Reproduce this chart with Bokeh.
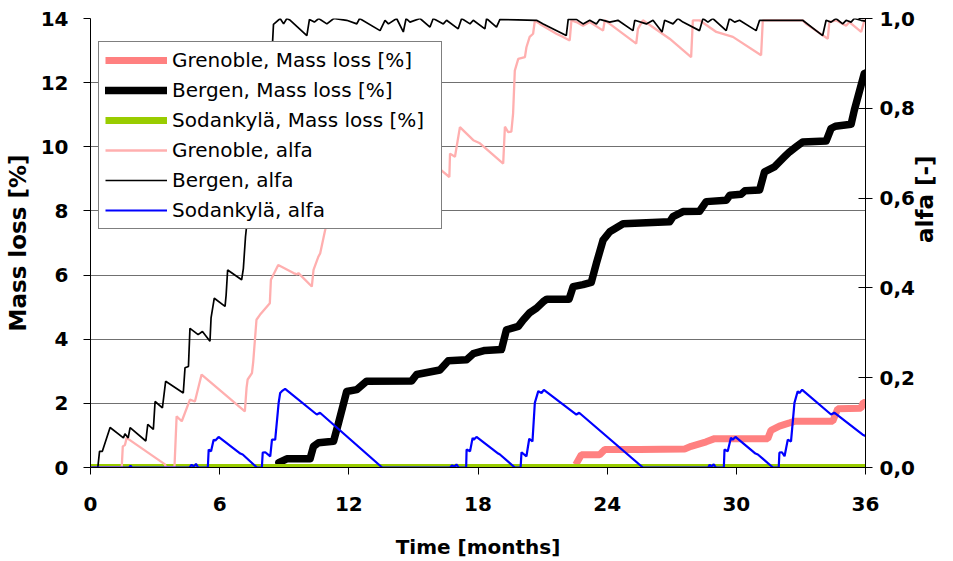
from math import pi
from bokeh.plotting import figure
from bokeh.models import (Range1d, LinearAxis, FixedTicker, CustomJSTickFormatter,
                          Legend, LegendItem)
from bokeh.embed import file_html
from bokeh.resources import INLINE

# ---------------- data (time in months, mass loss in %, alfa in -) ----------------
x_ticks = [0, 6, 12, 18, 24, 30, 36]
mass_ticks = [0, 2, 4, 6, 8, 10, 12, 14]
alfa_ticks = [0.0, 0.2, 0.4, 0.6, 0.8, 1.0]

grenoble_mass = [(22.54, 0.09), (22.8, 0.4), (23.65, 0.4), (23.89, 0.56), (25.5, 0.56),
                 (27.6, 0.58), (27.9, 0.66), (28.6, 0.8), (28.99, 0.9), (31.46, 0.9),
                 (31.61, 1.16), (32.0, 1.29), (32.47, 1.39), (32.7, 1.44), (34.48, 1.44),
                 (34.71, 1.83), (35.79, 1.85), (35.9, 2.03), (36.0, 2.03)]

bergen_mass = [(8.75, 0.15), (9.12, 0.27), (10.2, 0.27), (10.36, 0.66), (10.59, 0.77),
               (11.29, 0.82), (11.52, 1.39), (11.9, 2.37), (12.37, 2.43), (12.83, 2.69),
               (14.92, 2.70), (15.15, 2.9), (16.23, 3.04), (16.62, 3.33), (17.47, 3.36),
               (17.78, 3.55), (18.32, 3.65), (19.09, 3.68), (19.32, 4.29), (19.87, 4.4),
               (20.1, 4.6), (20.41, 4.83), (20.72, 4.97), (21.03, 5.17), (21.2, 5.25),
               (22.23, 5.25), (22.42, 5.64), (22.88, 5.7), (23.26, 5.77), (23.5, 6.37),
               (23.81, 7.09), (24.12, 7.35), (24.74, 7.6), (26.9, 7.66), (27.06, 7.82),
               (27.52, 7.98), (28.29, 7.99), (28.6, 8.29), (29.53, 8.33), (29.7, 8.49),
               (30.22, 8.52), (30.4, 8.63), (31.08, 8.65), (31.31, 9.22), (31.77, 9.37),
               (32.24, 9.69), (32.47, 9.84), (32.78, 10.0), (33.08, 10.15), (34.17, 10.18),
               (34.4, 10.57), (34.6, 10.64), (35.33, 10.7), (35.48, 11.14), (35.94, 12.28),
               (36.0, 12.3)]

sodankyla_mass = [(0, 0), (6, 0), (12, 0), (18, 0), (24, 0), (30, 0), (36, 0)]

grenoble_alfa = [(0, 0), (1.45, 0), (1.5, 0.047), (1.6, 0.05), (1.68, 0.066), (3.46, 0.007),
                 (3.5, 0), (3.9, 0), (4.0, 0.114), (4.24, 0.103), (4.62, 0.151), (4.85, 0.147),
                 (5.16, 0.207), (7.17, 0.125), (7.25, 0.178), (7.3, 0.196), (7.5, 0.21),
                 (7.56, 0.236), (7.71, 0.329), (7.87, 0.34), (8.33, 0.366), (8.38, 0.418),
                 (8.72, 0.451), (9.43, 0.433), (9.59, 0.43), (9.66, 0.433), (10.28, 0.403),
                 (10.36, 0.44), (10.59, 0.47), (10.67, 0.477), (10.9, 0.529), (11.1, 0.58),
                 (11.5, 0.6), (12.8, 0.55), (12.9, 0.62), (13.2, 0.64), (14.8, 0.58),
                 (14.9, 0.66), (15.3, 0.70), (16.3, 0.662), (16.67, 0.647), (16.7, 0.699),
                 (16.93, 0.692), (17.16, 0.758), (17.78, 0.729), (18.09, 0.722),
                 (19.17, 0.677), (19.25, 0.759), (19.4, 0.747), (19.55, 0.748),
                 (19.63, 0.788), (19.71, 0.884), (19.87, 0.91), (20.18, 0.914),
                 (20.25, 0.936), (20.4, 0.959), (20.56, 0.966), (20.64, 0.995),
                 (20.87, 0.988), (21.64, 0.966), (21.95, 0.959), (22.26, 0.951),
                 (22.34, 0.996), (22.57, 0.992), (22.88, 0.984), (23.19, 0.992),
                 (23.81, 0.973), (23.89, 0.996), (24.12, 0.988), (25.35, 0.944),
                 (25.43, 0.977), (25.66, 0.996), (26.9, 0.955), (27.9, 0.914),
                 (27.98, 0.996), (28.29, 0.996), (29.07, 0.970), (29.84, 0.959),
                 (31.15, 0.918), (31.23, 0.996), (33.08, 0.996), (33.24, 0.988),
                 (34.25, 0.955), (34.32, 0.992), (34.63, 0.996), (35.1, 0.984),
                 (35.25, 0.992), (35.8, 0.970), (35.95, 0.996), (36.0, 0.996)]

bergen_alfa = [(0, 0), (0.34, 0), (0.42, 0.036), (0.55, 0.036), (0.91, 0.089), (1.53, 0.066),
               (1.6, 0.075), (1.75, 0.066), (1.84, 0.089), (2.57, 0.059), (2.66, 0.096),
               (2.92, 0.085), (3.0, 0.147), (3.34, 0.133), (3.49, 0.192), (4.31, 0.166),
               (4.39, 0.222), (4.55, 0.225), (4.62, 0.310), (5.0, 0.296), (5.2, 0.303),
               (5.55, 0.281), (5.6, 0.333), (5.75, 0.377), (6.25, 0.359), (6.3, 0.384),
               (6.37, 0.440), (7.02, 0.418), (7.1, 0.443), (7.2, 0.514), (7.3, 0.56),
               (7.6, 0.68), (7.9, 0.78), (8.2, 0.86), (8.46, 0.95), (8.5, 0.987),
               (8.81, 1.0), (8.97, 0.988), (9.12, 1.0), (9.28, 0.996), (10.05, 0.962),
               (10.17, 0.998), (10.4, 0.992), (10.6, 1.0), (10.98, 0.988), (11.3, 1.0),
               (11.9, 0.996), (12.37, 0.988), (12.5, 1.0), (13.45, 0.973), (13.68, 0.996),
               (13.84, 0.988), (14.22, 1.0), (14.53, 0.970), (14.66, 1.0), (14.84, 0.992),
               (15.31, 1.0), (15.77, 0.981), (15.92, 1.0), (16.39, 0.988), (16.54, 0.996),
               (17.08, 0.977), (17.24, 1.0), (17.63, 0.988), (17.78, 0.996), (18.32, 0.977),
               (18.4, 1.0), (18.86, 0.981), (19.02, 0.998), (20.72, 0.996), (21.03, 0.988),
               (22.1, 0.962), (22.19, 0.998), (22.57, 0.998), (22.88, 0.988), (23.19, 0.996),
               (23.5, 0.988), (23.65, 0.998), (24.12, 0.992), (24.5, 0.996), (25.2, 0.973),
               (25.28, 0.996), (25.82, 0.988), (26.13, 0.996), (26.55, 0.970), (26.67, 0.996),
               (27.06, 0.988), (27.29, 1.0), (27.52, 0.992), (28.29, 0.973), (28.45, 1.0),
               (28.68, 0.992), (28.91, 1.0), (29.53, 0.973), (29.68, 1.0), (29.92, 0.992),
               (30.15, 0.996), (30.92, 0.973), (31.08, 0.996), (33.08, 0.996), (34.01, 0.962),
               (34.17, 0.996), (34.4, 0.992), (34.63, 1.0), (34.94, 0.988), (35.1, 0.996),
               (35.33, 0.992), (35.48, 1.0), (35.79, 0.996), (36.0, 0.994)]

sodankyla_alfa = [(0, 0), (1.8, 0), (1.86, 0.004), (1.92, 0), (4.6, 0), (4.7, 0.006), (4.8, 0.002),
                  (4.9, 0.008), (5.0, 0), (5.45, 0), (5.49, 0.04), (5.6, 0.036), (5.72, 0.062),
                  (5.8, 0.060), (5.95, 0.068), (6.96, 0.031), (7.07, 0.029), (7.73, 0),
                  (7.96, 0), (8.0, 0.033), (8.12, 0.034), (8.35, 0.025), (8.43, 0.062),
                  (8.58, 0.062), (8.74, 0.144), (8.81, 0.166), (8.89, 0.170), (9.04, 0.175),
                  (10.51, 0.118), (10.66, 0.122), (13.55, 0), (16.7, 0), (16.8, 0.005),
                  (16.9, 0.001), (17.0, 0.007), (17.1, 0), (17.45, 0), (17.47, 0.04),
                  (17.63, 0.036), (17.75, 0.066), (17.8, 0.062), (17.93, 0.068),
                  (18.94, 0.031), (19.02, 0.029), (19.71, 0), (19.98, 0), (20.02, 0.034),
                  (20.25, 0.025), (20.38, 0.064), (20.53, 0.058), (20.64, 0.144),
                  (20.8, 0.170), (20.95, 0.166), (21.06, 0.173), (22.57, 0.118),
                  (22.7, 0.122), (25.66, 0), (28.7, 0), (28.76, 0.006), (28.85, 0.002),
                  (28.95, 0.007), (29.05, 0), (29.42, 0), (29.45, 0.04), (29.6, 0.036),
                  (29.75, 0.066), (29.83, 0.062), (29.96, 0.068), (30.89, 0.031),
                  (31.0, 0.029), (31.7, 0), (31.97, 0), (32.0, 0.033), (32.12, 0.034),
                  (32.24, 0.025), (32.39, 0.062), (32.54, 0.058), (32.7, 0.144),
                  (32.85, 0.170), (32.93, 0.166), (33.06, 0.173), (34.4, 0.118),
                  (34.55, 0.122), (35.87, 0.073), (36.0, 0.070)]


def xs(pairs):
    return [a for a, b in pairs]


def ys(pairs):
    return [b for a, b in pairs]


FONT = "DejaVu Sans"
TICK_SIZE = "20px"
XTITLE_SIZE = "20px"
YTITLE_SIZE = "23px"

p = figure(width=953, height=561, output_backend="svg", toolbar_location=None,
           x_range=Range1d(0, 36), y_range=Range1d(0, 14),
           min_border_left=90, min_border_right=87, min_border_top=18, min_border_bottom=93,
           background_fill_color="white", border_fill_color="white")
p.outline_line_color = None
p.extra_y_ranges = {"alfa": Range1d(0, 1)}

# axes
p.xaxis.ticker = FixedTicker(ticks=x_ticks)
p.yaxis.ticker = FixedTicker(ticks=mass_ticks)
for ax in (p.xaxis[0], p.yaxis[0]):
    ax.major_label_text_font = FONT
    ax.major_label_text_font_style = "bold"
    ax.major_label_text_font_size = TICK_SIZE
    ax.major_label_text_color = "black"
    ax.axis_label_text_font = FONT
    ax.axis_label_text_font_style = "bold"
    ax.axis_label_text_color = "black"
    ax.axis_line_color = "black"
    ax.major_tick_line_color = "black"
    ax.minor_tick_line_color = None
    ax.major_tick_in = 0
    ax.major_tick_out = 7
p.xaxis.axis_label = "Time [months]"
p.xaxis.axis_label_text_font_size = XTITLE_SIZE
p.xaxis.major_label_standoff = 22
p.xaxis.axis_label_standoff = 21
p.yaxis.axis_label = "Mass loss [%]"
p.yaxis.axis_label_text_font_size = YTITLE_SIZE
p.yaxis.major_label_standoff = 15
p.yaxis.axis_label_standoff = 7

ra = LinearAxis(y_range_name="alfa", ticker=FixedTicker(ticks=alfa_ticks),
                formatter=CustomJSTickFormatter(code="return tick.toFixed(1).replace('.', ',');"))
ra.major_label_text_font = FONT
ra.major_label_text_font_style = "bold"
ra.major_label_text_font_size = TICK_SIZE
ra.major_label_text_color = "black"
ra.axis_line_color = "black"
ra.major_tick_line_color = "black"
ra.minor_tick_line_color = None
ra.major_tick_in = 7
ra.major_tick_out = 7
ra.major_label_standoff = 7
ra.axis_label = "alfa [-]"
ra.axis_label_text_font = FONT
ra.axis_label_text_font_style = "bold"
ra.axis_label_text_font_size = YTITLE_SIZE
ra.axis_label_text_color = "black"
ra.axis_label_standoff = 7
if "axis_label_orientation" in ra.properties():
    ra.axis_label_orientation = pi / 2
p.add_layout(ra, "right")

p.xgrid.visible = False
p.ygrid.grid_line_color = "#707070"
p.ygrid.grid_line_width = 1.2

# lines
r1 = p.line(xs(grenoble_mass), ys(grenoble_mass), line_color="#FF8080", line_width=7)
r2 = p.line(xs(bergen_mass), ys(bergen_mass), line_color="black", line_width=7.5,
            line_join="round", line_cap="round")
r3 = p.line(xs(sodankyla_mass), ys(sodankyla_mass), line_color="#99CC00", line_width=7)
r4 = p.line(xs(grenoble_alfa), ys(grenoble_alfa), line_color="#FFAFAF", line_width=2.3,
            y_range_name="alfa")
r5 = p.line(xs(bergen_alfa), ys(bergen_alfa), line_color="black", line_width=1.7,
            y_range_name="alfa")
r6 = p.line(xs(sodankyla_alfa), ys(sodankyla_alfa), line_color="#0000FF", line_width=2.2,
            y_range_name="alfa")

legend = Legend(items=[
    LegendItem(label="Grenoble, Mass loss [%]", renderers=[r1]),
    LegendItem(label="Bergen, Mass loss [%]", renderers=[r2]),
    LegendItem(label="Sodankylä, Mass loss [%]", renderers=[r3]),
    LegendItem(label="Grenoble, alfa", renderers=[r4]),
    LegendItem(label="Bergen, alfa", renderers=[r5]),
    LegendItem(label="Sodankylä, alfa", renderers=[r6]),
], location=(8, 238))
legend.label_text_font = FONT
legend.label_text_font_size = "20px"
legend.label_text_color = "black"
legend.glyph_width = 62
legend.glyph_height = 22
legend.label_height = 22
legend.label_width = 263
legend.label_standoff = 5
legend.spacing = 6
legend.padding = 6
legend.margin = 0
legend.border_line_color = "black"
legend.border_line_width = 1
legend.background_fill_color = "white"
legend.background_fill_alpha = 1.0
p.add_layout(legend)

with open("out.html", "w", encoding="utf-8") as f:
    f.write(file_html(p, INLINE))
